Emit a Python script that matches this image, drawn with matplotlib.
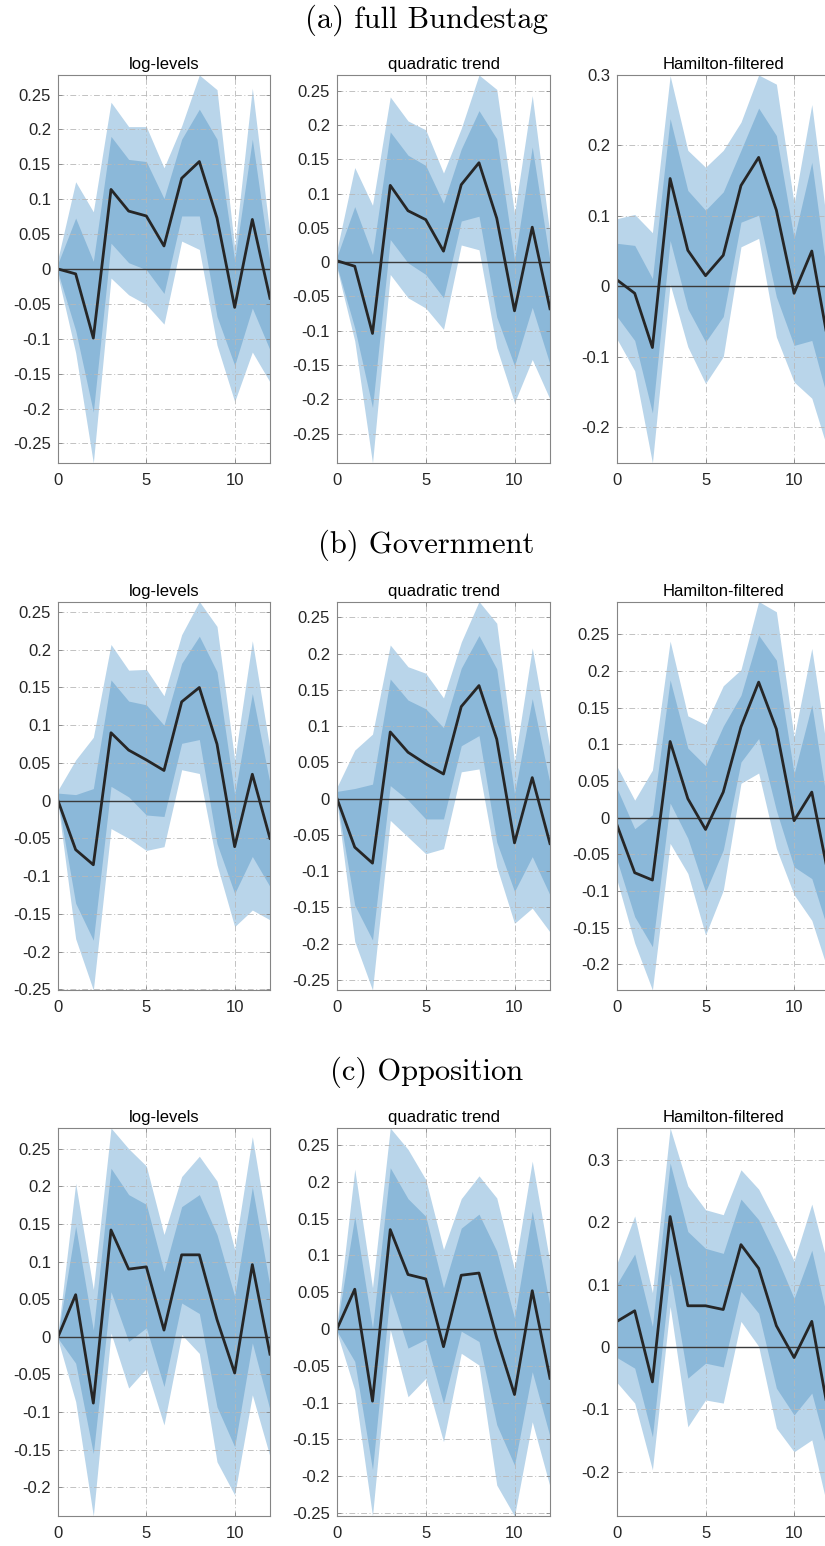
import numpy as np
import matplotlib
matplotlib.use("Agg")
import matplotlib.pyplot as plt
from matplotlib.ticker import MultipleLocator, FuncFormatter

plt.rcParams['font.family'] = ['Liberation Sans', 'DejaVu Sans']
plt.rcParams['axes.unicode_minus'] = False

horizons = list(range(13))
row_titles = ["(a) full Bundestag", "(b) Government", "(c) Opposition"]
col_titles = ["log-levels", "quadratic trend", "Hamilton-filtered"]

# ---------- (a) full Bundestag ----------
a_log_med  = [0.000, -0.007, -0.099, 0.114, 0.083, 0.076, 0.033, 0.130, 0.154, 0.073, -0.055, 0.071, -0.042]
a_log_hi68 = [0.008, 0.073, 0.011, 0.190, 0.157, 0.154, 0.101, 0.186, 0.229, 0.186, 0.012, 0.186, 0.009]
a_log_lo68 = [-0.005, -0.088, -0.205, 0.037, 0.009, -0.001, -0.035, 0.076, 0.076, -0.068, -0.138, -0.056, -0.116]
a_log_hi95 = [0.015, 0.125, 0.082, 0.239, 0.204, 0.204, 0.145, 0.205, 0.278, 0.257, 0.030, 0.259, 0.049]
a_log_lo95 = [-0.010, -0.120, -0.278, -0.013, -0.037, -0.051, -0.079, 0.040, 0.028, -0.109, -0.190, -0.119, -0.162]

a_quad_med  = [0.002, -0.006, -0.104, 0.112, 0.075, 0.062, 0.016, 0.113, 0.145, 0.064, -0.071, 0.051, -0.068]
a_quad_hi68 = [0.008, 0.081, 0.011, 0.190, 0.156, 0.141, 0.086, 0.165, 0.221, 0.180, 0.003, 0.168, 0.001]
a_quad_lo68 = [-0.006, -0.096, -0.212, 0.033, -0.001, -0.018, -0.052, 0.060, 0.067, -0.080, -0.151, -0.066, -0.149]
a_quad_hi95 = [0.018, 0.138, 0.083, 0.241, 0.206, 0.193, 0.130, 0.195, 0.273, 0.252, 0.071, 0.243, 0.040]
a_quad_lo95 = [-0.009, -0.115, -0.293, -0.018, -0.052, -0.067, -0.098, 0.025, 0.018, -0.125, -0.205, -0.142, -0.200]

a_ham_med  = [0.009, -0.010, -0.087, 0.153, 0.051, 0.015, 0.044, 0.143, 0.183, 0.108, -0.010, 0.050, -0.090]
a_ham_hi68 = [0.061, 0.058, 0.011, 0.238, 0.136, 0.108, 0.134, 0.193, 0.253, 0.214, 0.068, 0.176, -0.010]
a_ham_lo68 = [-0.043, -0.077, -0.180, 0.065, -0.032, -0.079, -0.043, 0.091, 0.101, -0.015, -0.084, -0.077, -0.170]
a_ham_hi95 = [0.096, 0.102, 0.076, 0.299, 0.193, 0.169, 0.193, 0.233, 0.300, 0.287, 0.117, 0.258, 0.060]
a_ham_lo95 = [-0.075, -0.120, -0.251, 0.003, -0.086, -0.138, -0.100, 0.056, 0.068, -0.072, -0.136, -0.159, -0.240]

# ---------- (b) Government ----------
b_log_med  = [0.000, -0.065, -0.085, 0.090, 0.067, 0.054, 0.040, 0.131, 0.150, 0.075, -0.061, 0.035, -0.050]
b_log_hi68 = [0.010, 0.008, 0.016, 0.160, 0.132, 0.127, 0.100, 0.182, 0.218, 0.171, 0.008, 0.142, 0.023]
b_log_lo68 = [-0.001, -0.136, -0.185, 0.019, 0.005, -0.019, -0.021, 0.076, 0.081, -0.057, -0.123, -0.074, -0.114]
b_log_hi95 = [0.014, 0.054, 0.084, 0.207, 0.173, 0.174, 0.139, 0.220, 0.264, 0.231, 0.054, 0.212, 0.068]
b_log_lo95 = [-0.004, -0.183, -0.251, -0.037, -0.050, -0.066, -0.061, 0.041, 0.036, -0.085, -0.167, -0.145, -0.158]

b_quad_med  = [0.000, -0.067, -0.089, 0.092, 0.064, 0.048, 0.034, 0.127, 0.156, 0.082, -0.061, 0.029, -0.062]
b_quad_hi68 = [0.010, 0.014, 0.020, 0.165, 0.136, 0.124, 0.098, 0.180, 0.225, 0.179, 0.007, 0.138, 0.021]
b_quad_lo68 = [-0.002, -0.147, -0.195, 0.018, -0.002, -0.028, -0.028, 0.073, 0.087, -0.060, -0.128, -0.080, -0.133]
b_quad_hi95 = [0.016, 0.067, 0.089, 0.212, 0.182, 0.173, 0.139, 0.216, 0.272, 0.242, 0.050, 0.208, 0.069]
b_quad_lo95 = [-0.005, -0.197, -0.264, -0.030, -0.053, -0.076, -0.069, 0.037, 0.041, -0.094, -0.172, -0.151, -0.184]

b_ham_med  = [-0.010, -0.075, -0.085, 0.104, 0.026, -0.016, 0.035, 0.124, 0.185, 0.121, -0.004, 0.035, -0.086]
b_ham_hi68 = [0.040, -0.015, 0.004, 0.188, 0.095, 0.071, 0.125, 0.167, 0.249, 0.215, 0.060, 0.154, 0.000]
b_ham_lo68 = [-0.058, -0.135, -0.176, 0.020, -0.028, -0.101, -0.044, 0.076, 0.108, 0.010, -0.067, -0.083, -0.160]
b_ham_hi95 = [0.070, 0.024, 0.065, 0.241, 0.139, 0.127, 0.180, 0.202, 0.295, 0.281, 0.110, 0.231, 0.070]
b_ham_lo95 = [-0.085, -0.171, -0.235, -0.035, -0.076, -0.160, -0.099, 0.047, 0.061, -0.042, -0.105, -0.140, -0.215]

# ---------- (c) Opposition ----------
c_log_med  = [0.000, 0.056, -0.088, 0.142, 0.090, 0.093, 0.009, 0.109, 0.109, 0.023, -0.048, 0.096, -0.023]
c_log_hi68 = [0.003, 0.147, 0.009, 0.224, 0.189, 0.176, 0.087, 0.173, 0.189, 0.136, 0.054, 0.199, 0.067]
c_log_lo68 = [-0.002, -0.035, -0.155, 0.060, -0.006, 0.012, -0.066, 0.045, 0.031, -0.093, -0.146, -0.008, -0.097]
c_log_hi95 = [0.005, 0.204, 0.063, 0.2775, 0.250, 0.227, 0.136, 0.213, 0.240, 0.207, 0.116, 0.266, 0.125]
c_log_lo95 = [-0.004, -0.086, -0.238, 0.005, -0.068, -0.042, -0.117, 0.003, -0.022, -0.166, -0.210, -0.077, -0.159]

c_quad_med  = [0.000, 0.054, -0.098, 0.135, 0.074, 0.068, -0.024, 0.073, 0.076, -0.012, -0.089, 0.052, -0.067]
c_quad_hi68 = [0.004, 0.153, 0.001, 0.219, 0.177, 0.153, 0.056, 0.137, 0.156, 0.106, 0.015, 0.160, 0.031]
c_quad_lo68 = [-0.003, -0.044, -0.191, 0.050, -0.026, -0.014, -0.101, -0.003, -0.017, -0.130, -0.185, -0.058, -0.146]
c_quad_hi95 = [0.008, 0.217, 0.056, 0.273, 0.244, 0.203, 0.108, 0.177, 0.208, 0.178, 0.081, 0.228, 0.090]
c_quad_lo95 = [-0.005, -0.083, -0.254, -0.001, -0.092, -0.067, -0.153, -0.033, -0.049, -0.212, -0.254, -0.126, -0.214]

c_ham_med  = [0.041, 0.058, -0.056, 0.209, 0.066, 0.066, 0.060, 0.164, 0.126, 0.034, -0.017, 0.041, -0.115]
c_ham_hi68 = [0.101, 0.149, 0.033, 0.295, 0.185, 0.158, 0.150, 0.237, 0.204, 0.145, 0.078, 0.155, 0.030]
c_ham_lo68 = [-0.017, -0.034, -0.144, 0.118, -0.050, -0.026, -0.032, 0.089, 0.054, -0.066, -0.109, -0.074, -0.180]
c_ham_hi95 = [0.134, 0.210, 0.087, 0.351, 0.258, 0.220, 0.212, 0.284, 0.253, 0.198, 0.138, 0.229, 0.120]
c_ham_lo95 = [-0.057, -0.090, -0.197, 0.065, -0.128, -0.085, -0.090, 0.041, 0.001, -0.130, -0.168, -0.149, -0.271]

panels = [
    [(a_log_med, a_log_lo68, a_log_hi68, a_log_lo95, a_log_hi95),
     (a_quad_med, a_quad_lo68, a_quad_hi68, a_quad_lo95, a_quad_hi95),
     (a_ham_med, a_ham_lo68, a_ham_hi68, a_ham_lo95, a_ham_hi95)],
    [(b_log_med, b_log_lo68, b_log_hi68, b_log_lo95, b_log_hi95),
     (b_quad_med, b_quad_lo68, b_quad_hi68, b_quad_lo95, b_quad_hi95),
     (b_ham_med, b_ham_lo68, b_ham_hi68, b_ham_lo95, b_ham_hi95)],
    [(c_log_med, c_log_lo68, c_log_hi68, c_log_lo95, c_log_hi95),
     (c_quad_med, c_quad_lo68, c_quad_hi68, c_quad_lo95, c_quad_hi95),
     (c_ham_med, c_ham_lo68, c_ham_hi68, c_ham_lo95, c_ham_hi95)],
]
ytick_steps = [[0.05, 0.05, 0.1], [0.05, 0.05, 0.05], [0.05, 0.05, 0.1]]

W, H = 825, 1546
fig = plt.figure(figsize=(W / 100, H / 100), dpi=100)

col_lr = [(58, 270), (337, 550), (617, 829.5)]
row_tb = [(75, 463), (601.5, 990), (1128, 1516)]
title_y = [20, 545, 1072]

light = '#b9d5ea'
dark = '#8bb8d9'
spine_c = '#858585'
text_c = '#262626'

def fmt(v, pos):
    r = round(v, 3)
    if abs(r) < 1e-9:
        return '0'
    return f'{r:g}'

for r in range(3):
    fig.text(426.5 / W, 1 - title_y[r] / H, row_titles[r], family='cmr10',
             fontsize=22, ha='center', va='center', color='black')
    top, bot = row_tb[r]
    for c in range(3):
        l, rr = col_lr[c]
        ax = fig.add_axes([l / W, 1 - bot / H, (rr - l) / W, (bot - top) / H])
        med, lo68, hi68, lo95, hi95 = panels[r][c]
        ax.fill_between(horizons, lo95, hi95, color=light, lw=0, zorder=1)
        ax.fill_between(horizons, lo68, hi68, color=dark, lw=0, zorder=1.2)
        ax.axhline(0, color='#3a3a3a', lw=1.0, zorder=3)
        ax.plot(horizons, med, color=text_c, lw=2.0, zorder=4)
        ax.set_xlim(0, 12)
        ax.set_ylim(min(lo95), max(hi95))
        ax.xaxis.set_major_locator(MultipleLocator(5))
        ax.yaxis.set_major_locator(MultipleLocator(ytick_steps[r][c]))
        ax.yaxis.set_major_formatter(FuncFormatter(fmt))
        ax.grid(True, color='#b8b8b8', lw=0.6, linestyle=(0, (7, 3, 1.2, 3)), zorder=2.5)
        ax.set_axisbelow(False)
        for s in ax.spines.values():
            s.set_color(spine_c)
            s.set_linewidth(0.8)
            s.set_zorder(5)
        ax.tick_params(direction='in', length=3, width=0.6, color=spine_c,
                       labelcolor=text_c, labelsize=12, pad=5,
                       top=True, right=True)
        ax.tick_params(axis='x', pad=7)
        ax.set_title(col_titles[c], fontsize=12, color='black', pad=4)

fig.savefig('out.png', dpi=100)
